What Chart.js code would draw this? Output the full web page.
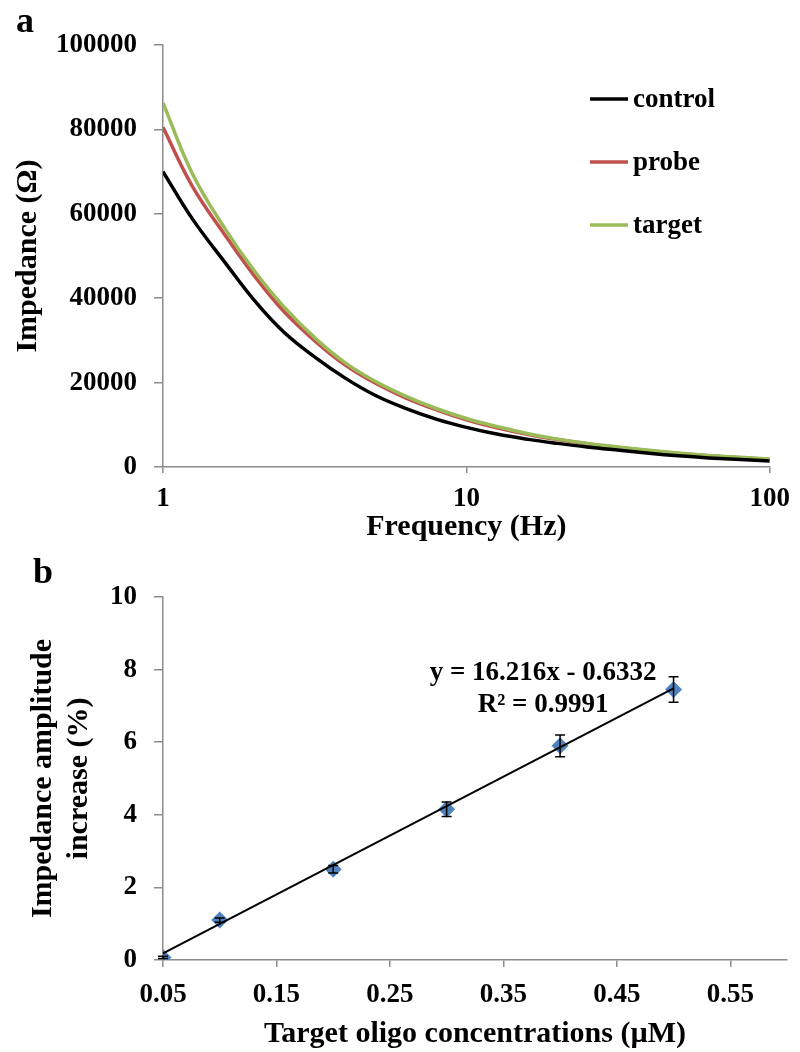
<!DOCTYPE html>
<html>
<head>
<meta charset="utf-8">
<script src="https://cdn.jsdelivr.net/npm/chart.js@4.4.1/dist/chart.umd.min.js"></script>
<style>
html, body { margin: 0; padding: 0; background: #fff; }
#wrapA { position: absolute; left: 0; top: 0; width: 800px; height: 550px; }
#wrapB { position: absolute; left: 0; top: 550px; width: 800px; height: 502px; }
</style>
</head>
<body>
<div id="wrapA"><canvas id="chartA" width="800" height="550"></canvas></div>
<div id="wrapB"><canvas id="chartB" width="800" height="502"></canvas></div>
<script>
// ---- panel a : impedance spectra ----
var freqs    = [1, 1.25, 1.6, 2, 2.5, 3.2, 4, 5, 6.3, 8, 10, 12.6, 16, 20, 25, 32, 40, 50, 63, 80, 100];
var controlZ = [70000, 58800, 48500, 39500, 32000, 25800, 21000, 17000, 13900, 11300, 9400, 7800, 6550, 5600, 4750, 3950, 3250, 2650, 2150, 1750, 1400];
var probeZ   = [80500, 66500, 55000, 45300, 36900, 29600, 24100, 19900, 16400, 13500, 11200, 9300, 7700, 6500, 5500, 4600, 3850, 3200, 2650, 2200, 1800];
var targetZ  = [86300, 69500, 56500, 46500, 38000, 30300, 24600, 20300, 16800, 13800, 11500, 9600, 7900, 6600, 5600, 4700, 3950, 3300, 2750, 2300, 1900];
var freqTicks = [1, 10, 100];

// ---- panel b : calibration ----
var conc        = [0.05, 0.1, 0.2, 0.3, 0.4, 0.5];
var increase    = [0.07, 1.1, 2.5, 4.15, 5.9, 7.45];
var increaseErr = [0.03, 0.06, 0.1, 0.2, 0.3, 0.35];
var concTicks   = [0.05, 0.15, 0.25, 0.35, 0.45, 0.55];
var trendX = [0.05, 0.5];
var trendY = [0.18, 7.48];
var trendText = ['y = 16.216x - 0.6332', 'R\u00b2 = 0.9991'];

var FONT = "'Liberation Serif', 'Times New Roman', serif";
var AXIS_GREY = '#8c8c8c';
Chart.defaults.font.family = FONT;
Chart.defaults.font.weight = 'bold';
Chart.defaults.color = '#000';

function xy(xs, ys) {
	return xs.map(function(x, i) { return { x: x, y: ys[i] }; });
}

// panel letter (a / b)
var panelLetter = {
	id: 'panelLetter',
	afterDraw: function(chart, args, opts) {
		var ctx = chart.ctx;
		ctx.save();
		ctx.font = 'bold 36px ' + FONT;
		ctx.fillStyle = '#000';
		ctx.textBaseline = 'alphabetic';
		ctx.fillText(opts.text, opts.x, opts.y);
		ctx.restore();
	}
};

// legend drawn by hand, on the right inside the plot
var sideLegend = {
	id: 'sideLegend',
	afterDraw: function(chart, args, opts) {
		var ctx = chart.ctx;
		ctx.save();
		ctx.font = 'bold 27px ' + FONT;
		ctx.textBaseline = 'middle';
		opts.order.forEach(function(name, k) {
			var ds = chart.data.datasets.filter(function(d) { return d.label === name; })[0];
			var y = opts.y + k * opts.gap;
			ctx.strokeStyle = ds.borderColor;
			ctx.lineWidth = 3.5;
			ctx.beginPath();
			ctx.moveTo(opts.x, y);
			ctx.lineTo(opts.x + 38, y);
			ctx.stroke();
			ctx.fillStyle = '#000';
			ctx.fillText(name, opts.x + 43, y + 1);
		});
		ctx.restore();
	}
};

// error bars + equation text
var errorBars = {
	id: 'errorBars',
	afterDatasetsDraw: function(chart) {
		var xs = chart.scales.x, ys = chart.scales.y, ctx = chart.ctx;
		ctx.save();
		ctx.strokeStyle = '#000';
		ctx.lineWidth = 1.5;
		conc.forEach(function(c, i) {
			var px = xs.getPixelForValue(c);
			var top = ys.getPixelForValue(increase[i] + increaseErr[i]);
			var bot = ys.getPixelForValue(increase[i] - increaseErr[i]);
			ctx.beginPath();
			ctx.moveTo(px, top); ctx.lineTo(px, bot);
			ctx.moveTo(px - 5, top); ctx.lineTo(px + 5, top);
			ctx.moveTo(px - 5, bot); ctx.lineTo(px + 5, bot);
			ctx.stroke();
		});
		ctx.font = 'bold 27px ' + FONT;
		ctx.fillStyle = '#000';
		ctx.textAlign = 'center';
		ctx.textBaseline = 'middle';
		ctx.fillText(trendText[0], xs.getPixelForValue(0.385), ys.getPixelForValue(7.9));
		ctx.fillText(trendText[1], xs.getPixelForValue(0.385), ys.getPixelForValue(7.02));
		ctx.restore();
	}
};

function fixedTicks(list) {
	return function(scale) {
		scale.ticks = list.map(function(v) { return { value: v }; });
	};
}

var gridTicks = function(len) {
	return { display: true, drawOnChartArea: false, drawTicks: true, tickLength: len, color: AXIS_GREY, lineWidth: 1.5 };
};

// ---------- chart a ----------
new Chart(document.getElementById('chartA').getContext('2d'), {
	type: 'line',
	data: {
		datasets: [
			{ label: 'control', data: xy(freqs, controlZ), borderColor: '#000000', borderWidth: 3.5 },
			{ label: 'target', data: xy(freqs, targetZ), borderColor: '#9bbb59', borderWidth: 3.5 },
			{ label: 'probe', data: xy(freqs, probeZ), borderColor: '#c0504d', borderWidth: 3.5 }
		]
	},
	options: {
		responsive: false,
		animation: false,
		elements: { point: { radius: 0 }, line: { tension: 0.4, fill: false } },
		layout: { padding: { top: 45, right: 23, left: 0, bottom: 0 } },
		plugins: {
			legend: { display: false },
			tooltip: { enabled: false },
			panelLetter: { text: 'a', x: 16, y: 32 },
			sideLegend: { order: ['control', 'probe', 'target'], x: 590, y: 99, gap: 63 }
		},
		scales: {
			x: {
				type: 'logarithmic',
				min: 1, max: 100,
				afterBuildTicks: fixedTicks(freqTicks),
				afterFit: function(s) { s.height = 83; },
				border: { display: true, color: AXIS_GREY, width: 1.5 },
				grid: gridTicks(6),
				ticks: { padding: 10, font: { size: 27, weight: 'bold' }, color: '#000', callback: function(v) { return String(v); } },
				title: { display: true, text: 'Frequency (Hz)', font: { size: 30, weight: 'bold' }, color: '#000', padding: { top: 0, bottom: 5 } }
			},
			y: {
				min: 0, max: 100000,
				afterFit: function(s) { s.width = 163; },
				border: { display: true, color: AXIS_GREY, width: 1.5 },
				grid: gridTicks(9),
				ticks: { stepSize: 20000, padding: 17, font: { size: 27, weight: 'bold' }, color: '#000', callback: function(v) { return String(v); } },
				title: { display: true, text: 'Impedance (\u03a9)', font: { size: 30, weight: 'bold' }, color: '#000', padding: { top: 10, bottom: 0 } }
			}
		}
	},
	plugins: [panelLetter, sideLegend]
});

// ---------- chart b ----------
new Chart(document.getElementById('chartB').getContext('2d'), {
	type: 'scatter',
	data: {
		datasets: [
			{ label: 'trend', type: 'line', data: xy(trendX, trendY), borderColor: '#000', borderWidth: 2, pointRadius: 0, fill: false },
			{ label: 'increase', data: xy(conc, increase), pointStyle: 'rectRot', pointRadius: 8.5, backgroundColor: '#4f81bd', borderColor: '#4f81bd', borderWidth: 0 }
		]
	},
	options: {
		responsive: false,
		animation: false,
		layout: { padding: { top: 47, right: 13, left: 0, bottom: 0 } },
		plugins: {
			legend: { display: false },
			tooltip: { enabled: false },
			panelLetter: { text: 'b', x: 33, y: 33 }
		},
		scales: {
			x: {
				type: 'linear',
				min: 0.05, max: 0.6,
				afterBuildTicks: fixedTicks(concTicks),
				afterFit: function(s) { s.height = 92; },
				border: { display: true, color: AXIS_GREY, width: 1.5 },
				grid: gridTicks(7),
				ticks: { padding: 12, font: { size: 27, weight: 'bold' }, color: '#000', callback: function(v) { return v.toFixed(2); } },
				title: { display: true, text: 'Target oligo concentrations (\u00b5M)', font: { size: 30, weight: 'bold' }, color: '#000', padding: { top: 0, bottom: 0 } }
			},
			y: {
				min: 0, max: 10,
				afterFit: function(s) { s.width = 163; },
				border: { display: true, color: AXIS_GREY, width: 1.5 },
				grid: gridTicks(9),
				ticks: { stepSize: 2, padding: 17, font: { size: 27, weight: 'bold' }, color: '#000' },
				title: { display: true, text: ['Impedance amplitude', 'increase (%)'], font: { size: 30, weight: 'bold' }, color: '#000', padding: { top: 25, bottom: 0 } }
			}
		}
	},
	plugins: [panelLetter, errorBars]
});
</script>
</body>
</html>
